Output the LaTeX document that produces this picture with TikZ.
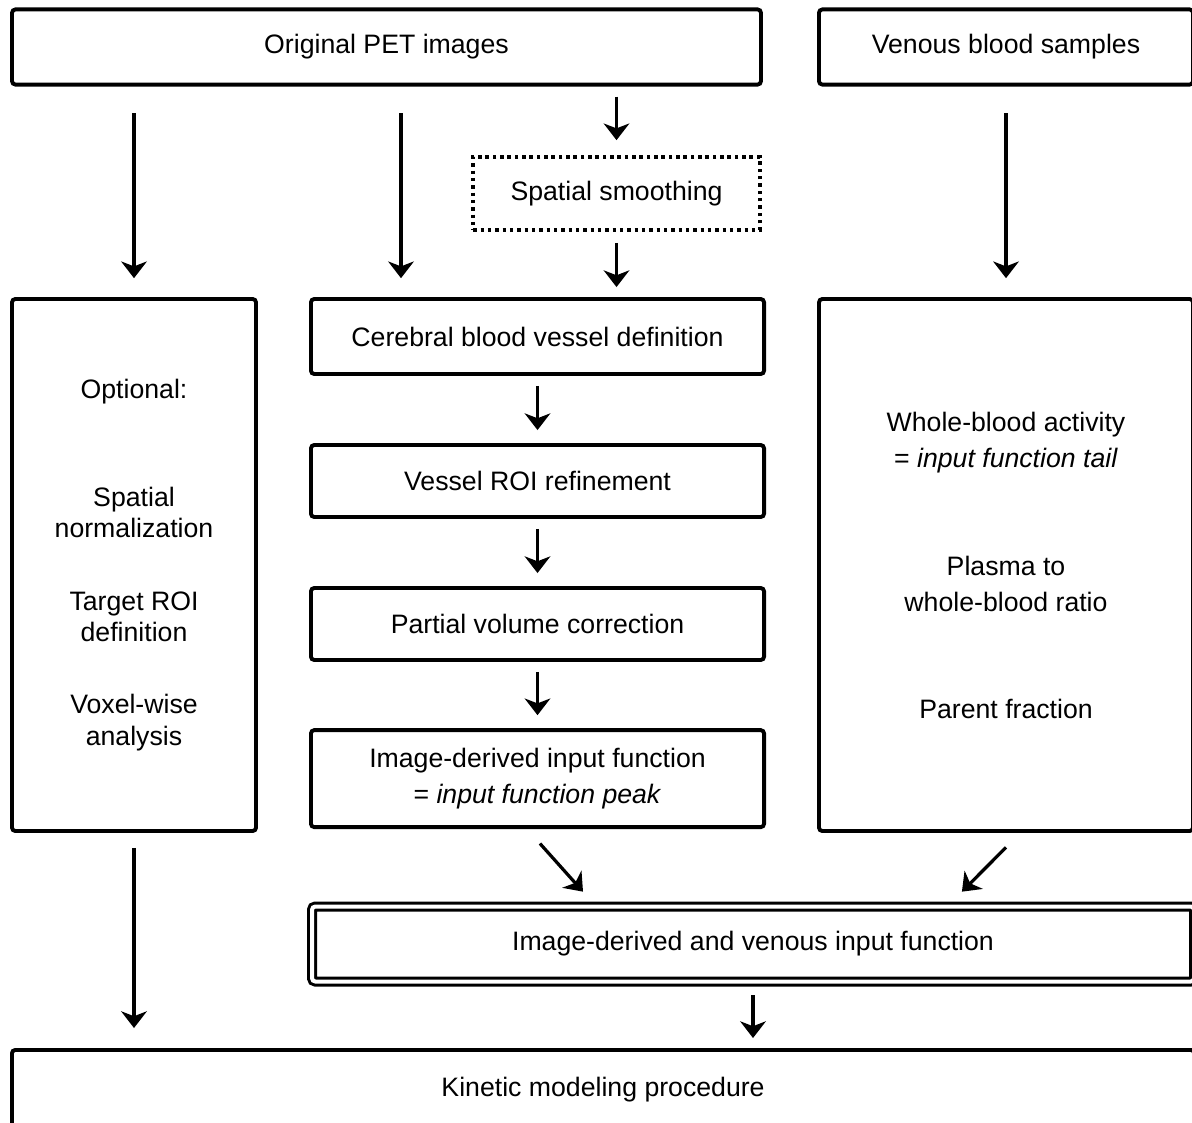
\documentclass[tikz,border=0pt]{standalone}
\usepackage{fontspec}
\setmainfont{Liberation Sans}
\usetikzlibrary{arrows.meta,positioning}

\begin{document}
\begin{tikzpicture}[x=0.45pt, y=-0.45pt, node distance=30.2pt, font=\fontsize{12}{14}\selectfont]
\tikzstyle{block} = [rectangle, draw, line width=1.75pt, rounded corners=1.5pt, align=center, inner sep=0pt]
\tikzstyle{dotbox} = [block, rounded corners=0pt, line width=1.6pt, dash pattern=on 1.6pt off 1.7pt]
\tikzstyle{dblbox} = [block, line width=1.35pt, double, double distance=1.8pt]
\tikzstyle{arrow} = [line width=1.45pt, -{Stealth[length=7.5pt, width=11.5pt, inset=2.2pt]}]

\useasboundingbox (0,0) rectangle (1192,1122);

\node [block, minimum width=337pt, minimum height=33.8pt] (pet) at (386.5,47) {Original PET images};
\node [block, minimum width=168.3pt, minimum height=33.8pt] (venous) at (1006,47) {Venous blood samples};
\node [dotbox, minimum width=129pt, minimum height=32.9pt] (smooth) at (616.5,193.5) {Spatial smoothing};

\node [block, minimum width=109.8pt, minimum height=239.4pt] (optional) at (134,565)
  {Optional:\\[34.6pt]Spatial\\normalization\\[18.85pt]Target ROI\\definition\\[18.4pt]Voxel-wise\\analysis};
\node [block, minimum width=203.9pt, minimum height=33.75pt] (vessel) at (537.5,336.5) {Cerebral blood vessel definition};
\node [block, minimum width=203.9pt, minimum height=32.4pt, below=of vessel] (refine) {Vessel ROI refinement};
\node [block, minimum width=203.9pt, minimum height=32.4pt, below=of refine] (pvc) {Partial volume correction};
\node [block, minimum width=203.9pt, minimum height=43.65pt, below=29.8pt of pvc] (idif)
  {Image-derived input function\\[2.2pt]= \textit{input function peak}};
\node [block, minimum width=168.3pt, minimum height=239.4pt] (blood) at (1006,565)
  {Whole-blood activity\\[2.2pt]= \textit{input function tail}\\[34.6pt]Plasma to\\[2.2pt]whole-blood ratio\\[34.15pt]Parent fraction};

\node [dblbox, minimum width=396.9pt, minimum height=33.75pt] (combined) at (753,944) {Image-derived and venous input function};
\node [block, anchor=north west, minimum width=532pt, text height=20.8pt, text depth=40pt] (kinetic) at (10,1048) {Kinetic modeling procedure};

% top row
\draw [arrow, shorten <=12pt, shorten >=8.5pt] (optional.north |- pet.south) -- (optional.north);
\draw [arrow, shorten <=12pt, shorten >=8.5pt] ([xshift=41.4pt]vessel.north west |- pet.south) -- ([xshift=41.4pt]vessel.north west);
\draw [arrow, shorten <=4.5pt, shorten >=6.75pt] (smooth.north |- pet.south) -- (smooth.north);
\draw [arrow, shorten <=5pt, shorten >=4.5pt] (smooth.south) -- (smooth.south |- vessel.north);
\draw [arrow, shorten <=12pt, shorten >=8.5pt] (venous) -- (blood);

% vessel column
\draw [arrow, shorten <=4.5pt, shorten >=5.85pt] (vessel) -- (refine);
\draw [arrow, shorten <=4.5pt, shorten >=5.85pt] (refine) -- (pvc);
\draw [arrow, shorten <=4.5pt, shorten >=5.85pt] (pvc) -- (idif);

% merge
\draw [arrow] ([shift={(1.1pt,-6.5pt)}]idif.south) -- ([shift={(-76.5pt,6pt)}]combined.north);
\draw [arrow] ([shift={(0pt,-6.5pt)}]blood.south) -- ([shift={(94pt,6pt)}]combined.north);
\draw [arrow, shorten <=6.75pt, shorten >=9pt] (optional) -- (optional |- kinetic.north);
\draw [arrow, shorten <=5.4pt, shorten >=4.5pt] (combined) -- (combined |- kinetic.north);
\end{tikzpicture}
\end{document}
